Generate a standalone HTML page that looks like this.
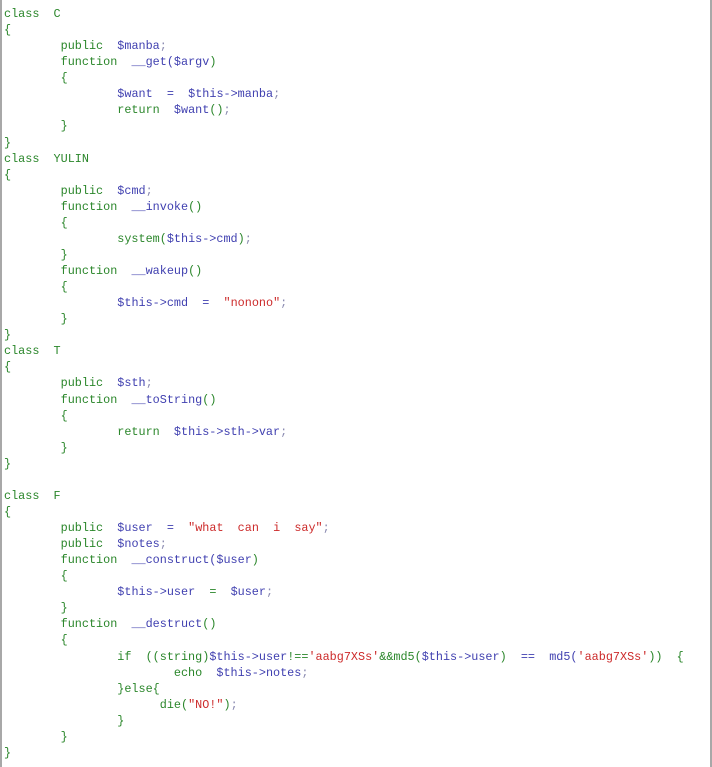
<!DOCTYPE html>
<html><head><meta charset="utf-8"><style>
html,body{margin:0;padding:0;background:#fff;}
body{width:712px;height:767px;position:relative;overflow:hidden;}
.bl{position:absolute;left:0;top:0;width:2px;height:767px;background:#a8a8a8;}
.br{position:absolute;left:710px;top:0;width:2px;height:767px;background:#a8a8a8;}
pre{position:absolute;left:4px;top:6px;margin:0;font-family:"Liberation Mono",monospace;font-size:11.8px;line-height:16.07px;color:#2a862a;}
.b{color:#4040b0;}.r{color:#cc2a2a;}.p{color:#8a8ab0;}
</style></head><body>
<div class="bl"></div><div class="br"></div>
<pre>class  C
{
        public  <span class="b">$manba</span><span class="p">;</span>
        function  <span class="b">__get(</span><span class="b">$argv</span>)
        {
                <span class="b">$want</span>  <span class="b">=</span>  <span class="b">$this-&gt;manba</span><span class="p">;</span>
                return  <span class="b">$want</span>()<span class="p">;</span>
        }
}
class  YULIN
{
        public  <span class="b">$cmd</span><span class="p">;</span>
        function  <span class="b">__invoke</span>()
        {
                system(<span class="b">$this-&gt;cmd</span>)<span class="p">;</span>
        }
        function  <span class="b">__wakeup</span>()
        {
                <span class="b">$this-&gt;cmd</span>  <span class="b">=</span>  <span class="r">"nonono"</span><span class="p">;</span>
        }
}
class  T
{
        public  <span class="b">$sth</span><span class="p">;</span>
        function  <span class="b">__toString</span>()
        {
                return  <span class="b">$this-&gt;sth-&gt;var</span><span class="p">;</span>
        }
}

class  F
{
        public  <span class="b">$user</span>  <span class="b">=</span>  <span class="r">"what  can  i  say"</span><span class="p">;</span>
        public  <span class="b">$notes</span><span class="p">;</span>
        function  <span class="b">__construct(</span><span class="b">$user</span>)
        {
                <span class="b">$this-&gt;user</span>  =  <span class="b">$user</span><span class="p">;</span>
        }
        function  <span class="b">__destruct</span>()
        {
                if  ((string)<span class="b">$this-&gt;user</span>!==<span class="r">'aabg7XSs'</span>&amp;&amp;md5(<span class="b">$this-&gt;user</span>)  <span class="b">==</span>  <span class="b">md5(</span><span class="r">'aabg7XSs'</span>))  {
                        echo  <span class="b">$this-&gt;notes</span><span class="p">;</span>
                }else{
                      die(<span class="r">"NO!"</span>)<span class="p">;</span>
                }
        }
}</pre>
</body></html>
